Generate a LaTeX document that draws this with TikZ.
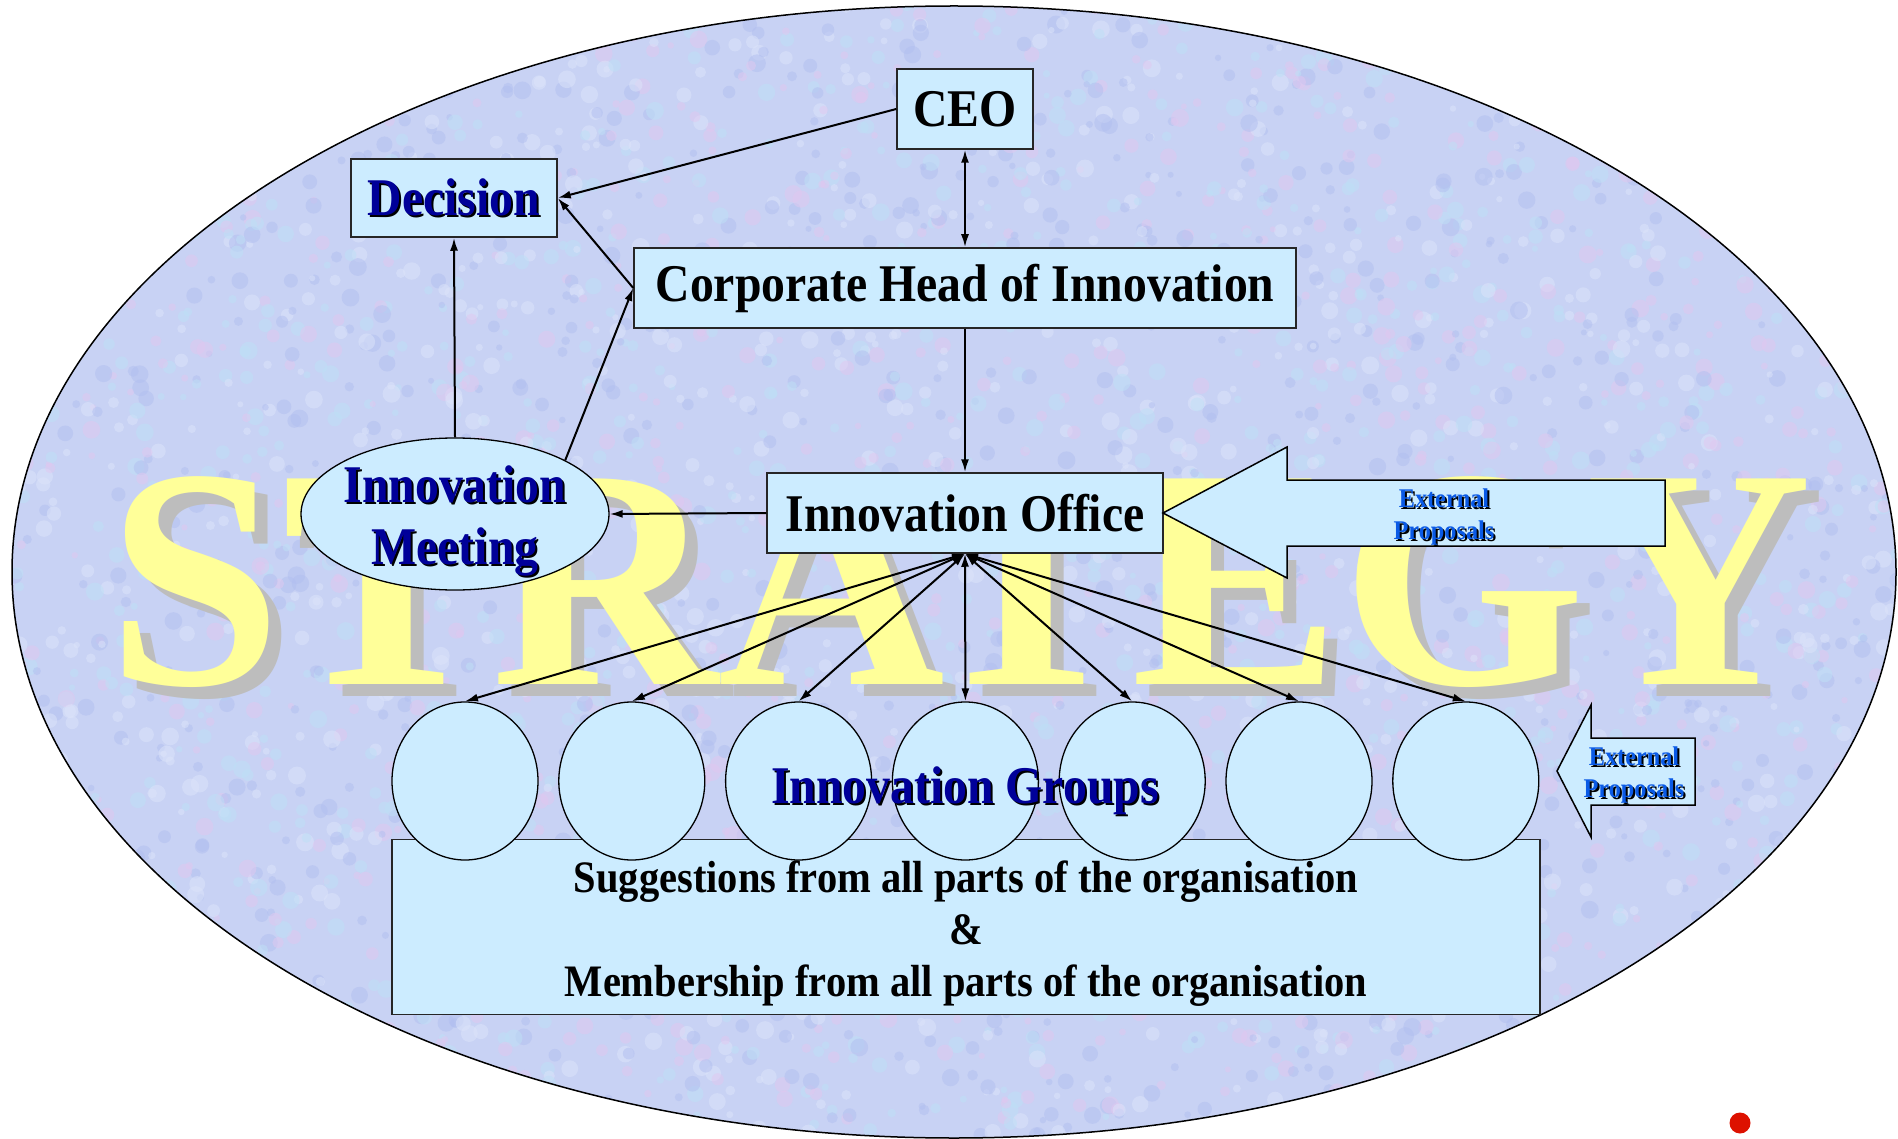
\documentclass[tikz,border=0pt]{standalone}
\usepackage{fontspec}
\setmainfont{Liberation Serif}
\newfontfamily\narrowserif[FakeStretch=0.9]{Liberation Serif}
\usetikzlibrary{arrows.meta,shapes.geometric}
\definecolor{BoxCyan}     {HTML}{CCECFF}
\definecolor{Mottle}      {HTML}{C8D2F4}
\definecolor{SpeckA}      {HTML}{E0C8F0}
\definecolor{SpeckB}      {HTML}{BEE0F6}
\definecolor{SpeckC}      {HTML}{B2BFF0}
\definecolor{SpeckD}      {HTML}{DCE4FA}
\definecolor{NavyInk}     {HTML}{000099}
\definecolor{ProposalBlue}{HTML}{0A5AE6}
\definecolor{BannerYellow}{HTML}{FFFF99}
\definecolor{BannerShade} {HTML}{BDBDBD}
\definecolor{DotRed}      {HTML}{DD1100}
% text with a small dark drop shadow behind it
\newcommand\shadetext[2]{\leavevmode\rlap{\kern2pt\raisebox{-2pt}{\color{#1}#2}}#2}
\tikzset{
  bluebox/.style={rectangle,draw=black!85,fill=BoxCyan,line width=1.5pt,inner sep=0pt},
  groupring/.style={ellipse,draw=black,fill=BoxCyan,line width=1.3pt,
                    minimum width=146,minimum height=158,inner sep=0pt},
  bigfont/.style={font=\narrowserif\bfseries\fontsize{53}{62}\selectfont},
  basefont/.style={font=\narrowserif\bfseries\fontsize{45}{52}\selectfont},
  propfont/.style={font=\narrowserif\bfseries\fontsize{27}{32}\selectfont,
                   text=ProposalBlue,align=center},
  link/.style={-{Latex[length=13pt,width=8pt]},line width=2pt},
  twoway/.style={{Latex[length=13pt,width=8pt]}-{Latex[length=13pt,width=8pt]},line width=2pt},
  inarrow/.style={draw=black,fill=BoxCyan,line width=1.5pt,line join=miter},
}
\begin{document}
\begin{tikzpicture}[x=1pt,y=1pt]
  \useasboundingbox (0,0) rectangle (1898,-1139);

  % strategy field
  \fill[Mottle] (954,-572) ellipse [x radius=942,y radius=566];
  \begin{scope}
    \clip (954,-572) ellipse [x radius=942,y radius=566];
    \pgfmathsetseed{17}
    \foreach \k in {1,...,4500}{
      \pgfmathsetmacro\px{rnd*1898}
      \pgfmathsetmacro\py{-rnd*1139}
      \pgfmathsetmacro\pr{3+rnd*6}
      \pgfmathtruncatemacro\pc{random(1,4)}
      \ifcase\pc\or\def\sc{SpeckA}\or\def\sc{SpeckB}\or\def\sc{SpeckC}\or\def\sc{SpeckD}\fi
      \fill[\sc,opacity=0.5] (\px,\py) circle[radius=\pr];
    }
  \end{scope}
  \draw[line width=1.5pt] (954,-572) ellipse [x radius=942,y radius=566];

  \node[anchor=base,text=BannerShade,font=\bfseries\fontsize{314}{314}\selectfont]
    (strshadow) at (973,-696) {STRATEGY};
  \node[anchor=base,text=BannerYellow,font=\bfseries\fontsize{314}{314}\selectfont]
    (strategy) at (960,-684) {STRATEGY};

  % chain of command
  \node[bluebox,bigfont,minimum width=136,minimum height=80] (ceo) at (965,-109) {CEO};
  \node[bluebox,bigfont,text=NavyInk,minimum width=206,minimum height=78]
    (decision) at (454,-198) {\shadetext{black}{Decision}};
  \node[bluebox,bigfont,minimum width=662,minimum height=80]
    (head) at (965,-288) {Corporate Head of Innovation};
  \node[bluebox,bigfont,minimum width=396,minimum height=80]
    (office) at (965,-513) {Innovation Office};
  \node[ellipse,draw=black,fill=BoxCyan,line width=1.3pt,inner sep=0pt,
        minimum width=308,minimum height=152] (meet) at (455,-514) {};
  \node[bigfont,text=NavyInk,align=center] (meettext) at (455,-522)
    {\shadetext{black}{Innovation}\\\shadetext{black}{Meeting}};

  % groups on top of the whole organisation
  \node[bluebox,minimum width=1148,minimum height=175] (base) at (966,-927) {};
  \node[basefont,align=center] (basetext) at (966,-934)
    {Suggestions from all parts of the organisation\\ \&\\
     Membership from all parts of the organisation};
  \foreach \i in {1,...,7}
    \node[groupring] (c\i) at ({465+166.8*(\i-1)},-781) {};
  \node[bigfont,text=NavyInk] (groups) at (965,-792) {\shadetext{black}{Innovation Groups}};

  % links
  \draw[link] (ceo.west) -- (decision.east);
  \draw[link] (head.west) -- (decision.east);
  \draw[link] (meet.26) -- (head.west);
  \draw[link] (meet.north) -- (decision.south);
  \draw[twoway] (ceo.south) -- (head.north);
  \draw[link] (head.south) -- (office.north);
  \draw[link] (office.west) -- (meet.east);
  \foreach \i in {1,...,7}
    \draw[twoway] (office.south) -- (c\i.north);

  % proposals coming in from outside
  \draw[inarrow] (1163,-513) -- (1287,-447) -- (1287,-480) -- (1665,-480)
    -- (1665,-546) -- (1287,-546) -- (1287,-578) -- cycle;
  \node[propfont] (extbig) at (1444,-518)
    {\shadetext{black}{External}\\\shadetext{black}{Proposals}};
  \draw[inarrow] (1557,-771) -- (1591,-705) -- (1591,-738) -- (1695,-738)
    -- (1695,-805) -- (1591,-805) -- (1591,-837) -- cycle;
  \node[propfont] (extsmall) at (1634,-776)
    {\shadetext{black}{External}\\\shadetext{black}{Proposals}};

  \fill[DotRed] (1740,-1123) circle[radius=10.5];
\end{tikzpicture}
\end{document}
